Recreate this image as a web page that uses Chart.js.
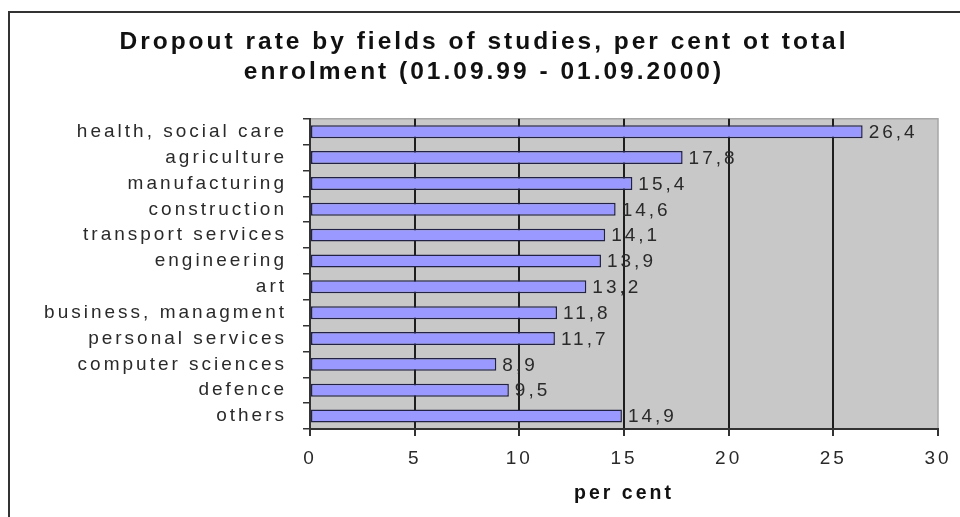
<!DOCTYPE html>
<html>
<head>
<meta charset="utf-8">
<script src="https://cdn.jsdelivr.net/npm/chart.js@4.4.1/dist/chart.umd.min.js"></script>
<style>
  html, body { margin: 0; padding: 0; background: #ffffff; }
  #wrap { width: 960px; height: 517px; }
</style>
</head>
<body>
<div id="wrap"><canvas id="c" width="960" height="517"></canvas></div>
<script>
const titleLines = ["Dropout rate by fields of studies, per cent ot total", "enrolment (01.09.99 - 01.09.2000)"];
const categories = ["health, social care", "agriculture", "manufacturing", "construction", "transport services", "engineering", "art", "business, managment", "personal services", "computer sciences", "defence", "others"];
const dropoutRates = [26.4, 17.8, 15.4, 14.6, 14.1, 13.9, 13.2, 11.8, 11.7, 8.9, 9.5, 14.9];
const xAxisTitle = "per cent";
const xMin = 0, xMax = 30, xStep = 5;

const FONT = "'Liberation Sans', Arial, sans-serif";
const SPACING = '3px';

const spacingPlugin = {
  id: 'spacing',
  afterInit(chart) { chart.ctx.letterSpacing = SPACING; },
  beforeUpdate(chart) { chart.ctx.letterSpacing = SPACING; },
  beforeLayout(chart) { chart.ctx.letterSpacing = SPACING; },
  beforeDraw(chart) { chart.ctx.letterSpacing = SPACING; }
};

const framePlugin = {
  id: 'frame',
  beforeDraw(chart) {
    const ctx = chart.ctx;
    const a = chart.chartArea;
    ctx.save();
    ctx.fillStyle = '#ffffff';
    ctx.fillRect(0, 0, chart.width, chart.height);
    ctx.strokeStyle = '#333333';
    ctx.lineWidth = 2;
    ctx.beginPath();
    ctx.moveTo(9, chart.height);
    ctx.lineTo(9, 12);
    ctx.lineTo(chart.width, 12);
    ctx.stroke();
    ctx.fillStyle = '#c8c8c8';
    ctx.fillRect(a.left, a.top, a.right - a.left, a.bottom - a.top);
    ctx.strokeStyle = '#a6a6a6';
    ctx.lineWidth = 1.5;
    ctx.beginPath();
    ctx.moveTo(a.left, a.top);
    ctx.lineTo(a.right, a.top);
    ctx.lineTo(a.right, a.bottom);
    ctx.stroke();
    ctx.restore();
  }
};

const valueLabelPlugin = {
  id: 'valueLabels',
  afterDatasetsDraw(chart) {
    const ctx = chart.ctx;
    const meta = chart.getDatasetMeta(0);
    ctx.save();
    ctx.letterSpacing = SPACING;
    ctx.font = '19px ' + FONT;
    ctx.fillStyle = '#2a2a2a';
    ctx.textAlign = 'left';
    ctx.textBaseline = 'middle';
    meta.data.forEach((bar, i) => {
      const txt = dropoutRates[i].toFixed(1).replace('.', ',');
      ctx.fillText(txt, bar.x + 6, bar.y + 1);
    });
    ctx.restore();
  }
};

new Chart(document.getElementById('c'), {
  type: 'bar',
  data: {
    labels: categories,
    datasets: [{
      data: dropoutRates,
      backgroundColor: '#9999ff',
      borderColor: '#222244',
      borderWidth: 1.5,
      borderSkipped: false,
      barPercentage: 0.5,
      categoryPercentage: 1
    }]
  },
  options: {
    indexAxis: 'y',
    responsive: false,
    animation: false,
    devicePixelRatio: 1,
    layout: { padding: { left: 30, right: 22, top: 0, bottom: 0 } },
    plugins: {
      legend: { display: false },
      tooltip: { enabled: false },
      title: {
        display: true,
        text: titleLines,
        color: '#111111',
        font: { family: FONT, size: 24.5, weight: 'bold', lineHeight: 1.2 },
        padding: { top: 28, bottom: 32 }
      }
    },
    scales: {
      y: {
        type: 'category',
        afterFit(scale) { scale.width = 280; },
        grid: { display: true, drawOnChartArea: false, drawTicks: true, tickLength: 7, color: '#333333', lineWidth: 1.5, offset: true },
        border: { display: true, color: '#333333', width: 2 },
        ticks: { font: { family: FONT, size: 19 }, color: '#2a2a2a', padding: 16, crossAlign: 'near', autoSkip: false }
      },
      x: {
        min: xMin,
        max: xMax,
        afterFit(scale) { scale.height = 88; scale.paddingLeft = 0; scale.paddingRight = 0; },
        grid: {
          color: (c) => (c.tick && c.tick.value === xMax) ? 'rgba(0,0,0,0)' : '#1e1e1e',
          tickColor: '#333333',
          lineWidth: 2,
          drawTicks: true,
          tickLength: 7
        },
        border: { display: true, color: '#333333', width: 2 },
        ticks: { stepSize: xStep, font: { family: FONT, size: 19 }, color: '#2a2a2a', padding: 11 },
        title: {
          display: true,
          text: xAxisTitle,
          color: '#111111',
          font: { family: FONT, size: 19.5, weight: 'bold', lineHeight: 1.2 },
          padding: { top: 0, bottom: 12 }
        }
      }
    }
  },
  plugins: [spacingPlugin, framePlugin, valueLabelPlugin]
});
</script>
</body>
</html>
